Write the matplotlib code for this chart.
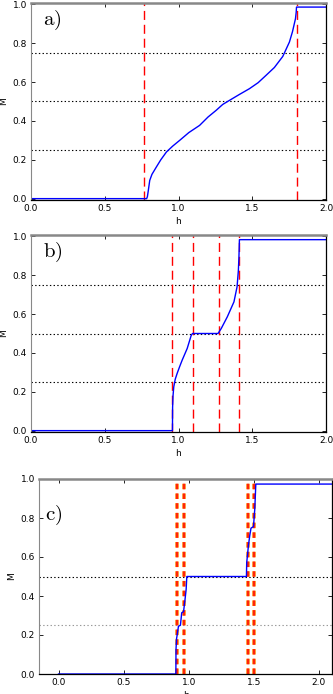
import matplotlib
matplotlib.use("Agg")
import matplotlib.pyplot as plt

plt.rcParams['mathtext.fontset'] = 'cm'
plt.rcParams['lines.scale_dashes'] = False

# Panel a data
h_a = [0.0, 0.784, 0.789, 0.795, 0.805, 0.82, 0.85, 0.88, 0.918, 0.96, 1.008, 1.07, 1.143, 1.20, 1.256, 1.30, 1.346,
       1.41, 1.481, 1.54, 1.594, 1.65, 1.707, 1.752, 1.773, 1.793, 1.798, 1.80, 2.0]
M_a = [0.0, 0.0, 0.01, 0.04, 0.094, 0.125, 0.163, 0.20, 0.24, 0.27, 0.30, 0.34, 0.377, 0.42, 0.455, 0.485, 0.506,
       0.535, 0.566, 0.597, 0.635, 0.675, 0.732, 0.806, 0.86, 0.926, 0.96, 0.986, 0.986]
vlines_a = [0.767, 1.80]

# Panel b data
h_b = [0.0, 0.959, 0.960, 0.963, 0.968, 0.978, 0.991, 1.008, 1.025, 1.059, 1.086, 1.095, 1.268, 1.29, 1.331,
       1.376, 1.397, 1.406, 1.410, 1.413, 2.0]
M_b = [0.0, 0.0, 0.12, 0.18, 0.226, 0.265, 0.295, 0.33, 0.363, 0.423, 0.49, 0.5, 0.5, 0.526, 0.586,
       0.663, 0.74, 0.825, 0.90, 0.983, 0.983]
vlines_b = [0.959, 1.100, 1.274, 1.413]

# Panel c data
h_c = [0.0, 0.901, 0.902, 0.906, 0.911, 0.921, 0.936, 0.946, 0.96, 0.97, 0.98, 0.985, 1.443, 1.445, 1.458,
       1.468, 1.478, 1.497, 1.507, 1.515, 2.1]
M_c = [0.0, 0.0, 0.125, 0.18, 0.2, 0.245, 0.25, 0.314, 0.32, 0.374, 0.434, 0.5, 0.5, 0.571, 0.657,
       0.708, 0.748, 0.756, 0.846, 0.974, 0.974]
vlines_c = [0.912, 0.966, 1.452, 1.500]

fig = plt.figure(figsize=(3.33, 6.94), dpi=100)
W, H = 333.0, 694.0

def make_ax(l, t, r, b):
    return fig.add_axes([l / W, 1 - b / H, (r - l) / W, (b - t) / H])

ax_a = make_ax(31, 3, 326, 200)
ax_b = make_ax(31, 235, 326, 432)
ax_c = make_ax(39, 479, 332, 674)

FS = 6.5

def style(ax):
    ax.tick_params(direction='in', top=True, right=True, labelsize=FS, length=3, width=0.6, pad=3)
    ax.spines['top'].set_color('#888888')
    ax.spines['top'].set_linewidth(1.8)
    ax.spines['left'].set_color('#888888')
    ax.spines['left'].set_linewidth(0.8)
    ax.spines['bottom'].set_color('black')
    ax.spines['right'].set_color('black')
    ax.spines['bottom'].set_linewidth(0.9)
    ax.spines['right'].set_linewidth(0.9)
    ax.set_xlabel('h', fontsize=FS, labelpad=3)
    ax.set_ylabel('M', fontsize=FS, labelpad=3)

for ax, hh, mm, vl, lab in [(ax_a, h_a, M_a, vlines_a, 'a)'), (ax_b, h_b, M_b, vlines_b, 'b)')]:
    for y in [0.25, 0.5, 0.75]:
        ax.axhline(y, color='black', ls=':', lw=0.8)
    for x in vl:
        ax.axvline(x, color='red', ls='--', lw=1.0, dashes=(6.5, 3.5))
    ax.plot(hh, mm, color='blue', lw=1.0)
    ax.set_xlim(0, 2.0)
    ax.set_ylim(-0.007, 1.007)
    ax.set_xticks([0.0, 0.5, 1.0, 1.5, 2.0])
    ax.set_yticks([0.0, 0.2, 0.4, 0.6, 0.8, 1.0])
    ax.text(0.04, 0.97, r'$\mathrm{' + lab + '}$', transform=ax.transAxes, fontsize=15, va='top', ha='left')
    style(ax)

ax = ax_c
ax.axhline(0.25, color='#999999', ls=':', lw=0.8)
ax.axhline(0.5, color='black', ls=':', lw=0.8)
for x in vlines_c:
    ax.axvline(x, color='#ff9933', ls='--', lw=2.8, dashes=(4, 3))
    ax.axvline(x, color='red', ls='--', lw=1.1, dashes=(4, 3))
ax.plot(h_c, M_c, color='blue', lw=1.0)
ax.set_xlim(-0.15, 2.1)
ax.set_ylim(0, 1.0)
ax.set_xticks([0.0, 0.5, 1.0, 1.5, 2.0])
ax.set_yticks([0.0, 0.2, 0.4, 0.6, 0.8, 1.0])
ax.text(0.02, 0.87, r'$\mathrm{c)}$', transform=ax.transAxes, fontsize=15, va='top', ha='left')
style(ax)

fig.savefig('out.png', dpi=100)
